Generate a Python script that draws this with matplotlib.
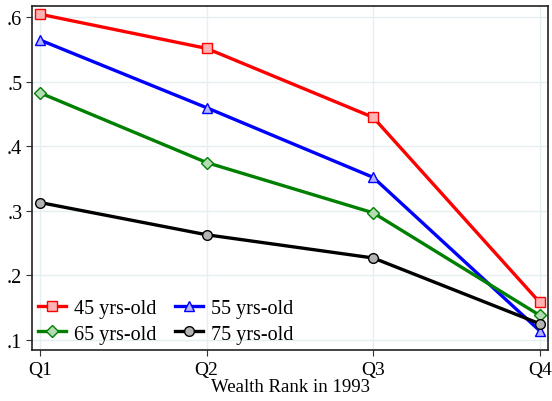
import matplotlib
matplotlib.use("Agg")
import matplotlib.pyplot as plt

plt.rcParams['font.family'] = ['Liberation Serif', 'DejaVu Serif']

quartiles = ["Q1", "Q2", "Q3", "Q4"]
age45 = [0.605, 0.552, 0.445, 0.158]
age55 = [0.565, 0.460, 0.352, 0.114]
age65 = [0.483, 0.375, 0.297, 0.138]
age75 = [0.313, 0.263, 0.227, 0.125]

series = [
    ("45 yrs-old", age45, "#ff0000", "s", "#ffb3b3"),
    ("55 yrs-old", age55, "#0000ff", "^", "#b3b3ff"),
    ("65 yrs-old", age65, "#008000", "D", "#b3dcb3"),
    ("75 yrs-old", age75, "#000000", "o", "#b3b3b3"),
]

fig = plt.figure(figsize=(5.52, 4.02), dpi=100)
ax = fig.add_axes([0.058, 0.128, 0.935, 0.855])

x = list(range(1, len(quartiles) + 1))
handles = []
for label, vals, col, mk, fill in series:
    h, = ax.plot(x, vals, color=col, lw=2.4, marker=mk, markersize=7 if mk != "D" else 6.5,
                 markerfacecolor=fill, markeredgecolor=col, markeredgewidth=1.0,
                 label=label, zorder=3)
    handles.append(h)

ax.set_xlim(0.952, 4.05)
ax.set_ylim(0.085, 0.618)
ax.set_xticks(x)
ax.set_xticklabels(quartiles)
ax.set_yticks([0.1, 0.2, 0.3, 0.4, 0.5, 0.6])
ax.set_yticklabels([".1", ".2", ".3", ".4", ".5", ".6"])
ax.tick_params(labelsize=14.5, length=4, color="#333333", pad=3)
ax.tick_params(axis="x", labelsize=14, pad=4)
ax.grid(True, color="#e6eff0", lw=1.0, zorder=0)
for s in ax.spines.values():
    s.set_linewidth(1.2)
    s.set_color("#222222")
ax.set_xlabel("Wealth Rank in 1993", fontsize=13.5, labelpad=0)

# row-wise legend order: 45, 55 / 65, 75
order = [0, 2, 1, 3]
ax.legend([handles[i] for i in order], [series[i][0] for i in order],
          loc="lower left", ncol=2, frameon=False, fontsize=14.5,
          handlelength=1.4, columnspacing=0.9, handletextpad=0.4,
          labelspacing=0.3, borderaxespad=0.0, borderpad=0.3)

fig.savefig("out.png", dpi=100)
